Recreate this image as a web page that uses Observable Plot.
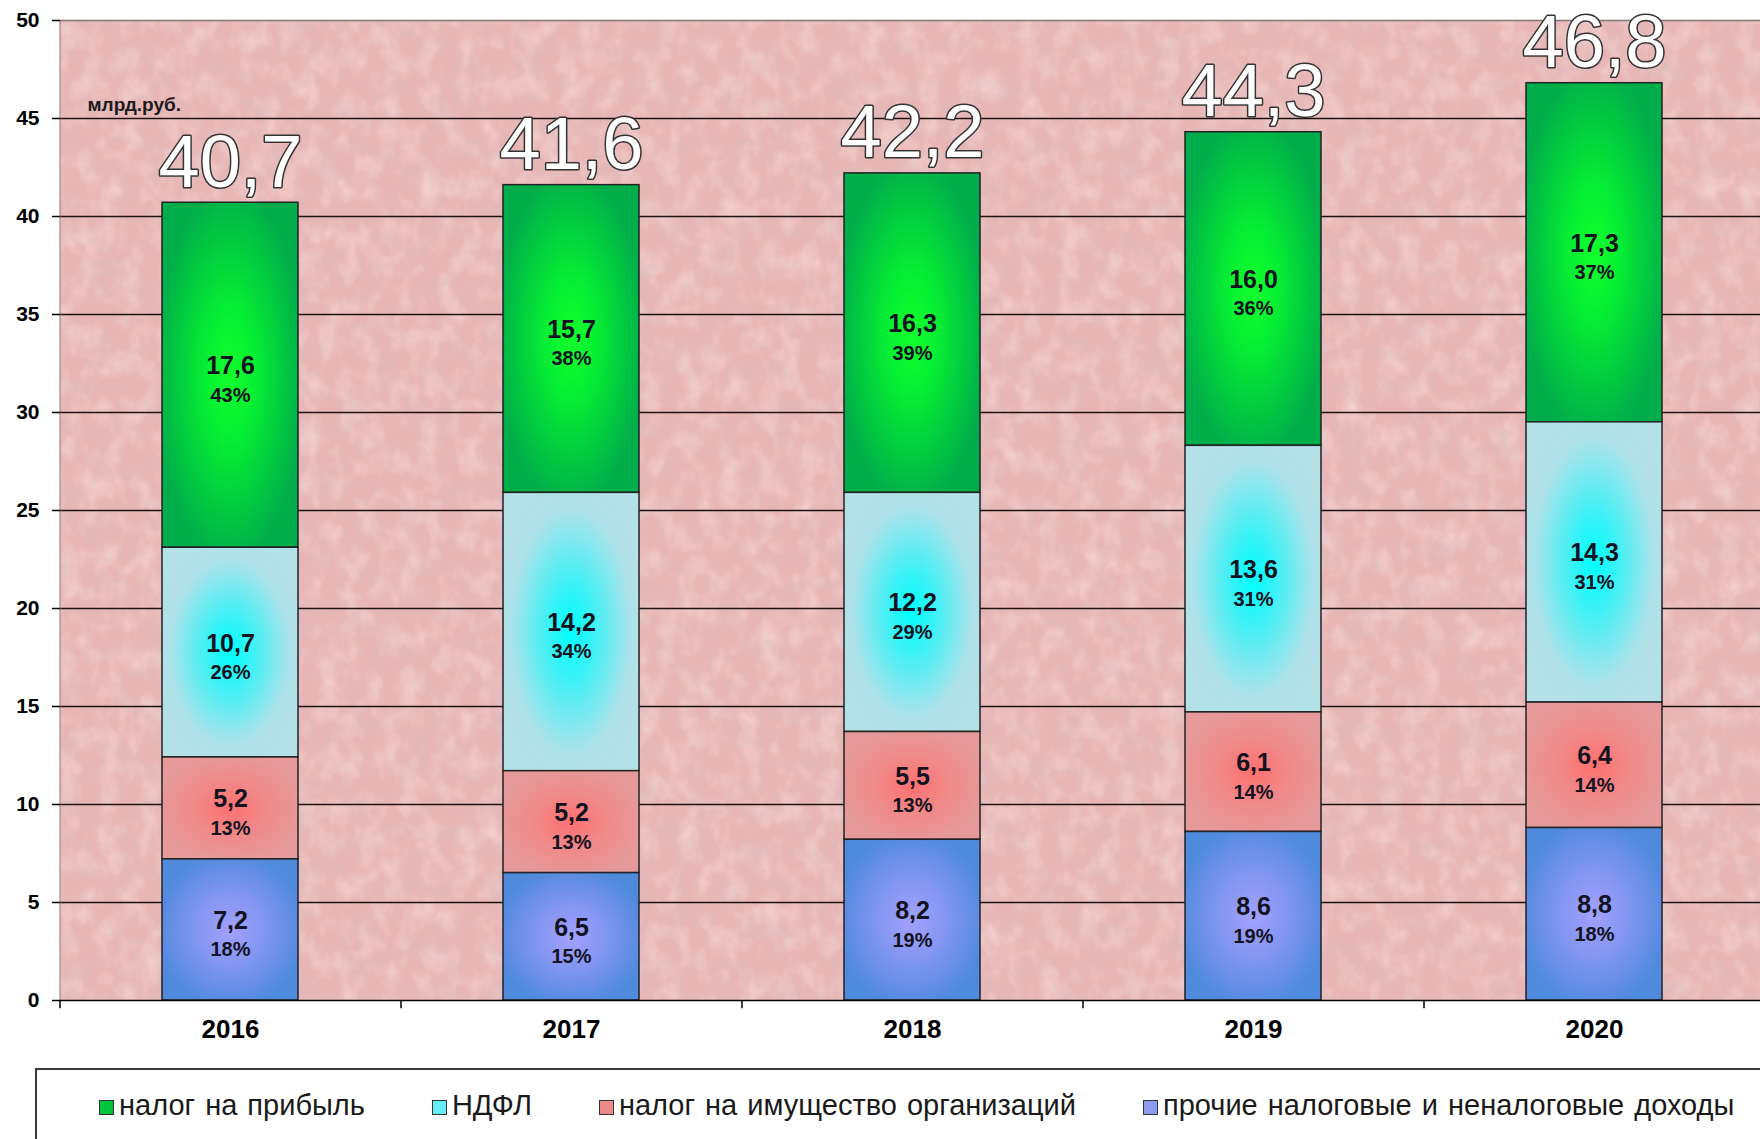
<!DOCTYPE html>
<html>
<head>
<meta charset="utf-8">
<script src="https://cdn.jsdelivr.net/npm/d3@7"></script>
<script src="https://cdn.jsdelivr.net/npm/@observablehq/plot@0.6"></script>
<style>
  html, body { margin: 0; padding: 0; background: #fff; }
  body { width: 1760px; height: 1139px; overflow: hidden; position: relative; font-family: "Liberation Sans", Arial, sans-serif; }
  #chart { position: absolute; left: 0; top: 0; }
  #legend { position: absolute; left: 35px; top: 1068px; width: 1800px; height: 120px; border: 2px solid #3a3a3a; box-sizing: border-box; background: #fff; }
  #legend .row { position: absolute; left: 62px; top: 20px; display: flex; gap: 67px; white-space: nowrap; }
  #legend .item { font-size: 29px; line-height: 30px; color: #1a1a1a; word-spacing: 2px; }
  #legend .sw { display: inline-block; width: 13px; height: 13px; border: 1.5px solid #333; margin-right: 5px; vertical-align: baseline; }
</style>
</head>
<body>
<div id="chart"></div>
<div id="legend"><div class="row"></div></div>
<script>
// ---- data ----
const years = ["2016", "2017", "2018", "2019", "2020"];
const seriesNames = ["налог на прибыль", "НДФЛ", "налог на имущество организаций", "прочие налоговые и неналоговые доходы"];
const profitTax   = [17.6, 15.7, 16.3, 16.0, 17.3];
const profitPct   = [43, 38, 39, 36, 37];
const ndfl        = [10.7, 14.2, 12.2, 13.6, 14.3];
const ndflPct     = [26, 34, 29, 31, 31];
const propertyTax = [5.2, 5.2, 5.5, 6.1, 6.4];
const propertyPct = [13, 13, 13, 14, 14];
const otherIncome = [7.2, 6.5, 8.2, 8.6, 8.8];
const otherPct    = [18, 15, 19, 19, 18];
const totals      = [40.7, 41.6, 42.2, 44.3, 46.8];
const yTicks      = [0, 5, 10, 15, 20, 25, 30, 35, 40, 45, 50];
const unitLabel   = "млрд.руб.";

// ---- tables built from arrays ----
const seriesValues = [profitTax, ndfl, propertyTax, otherIncome];
const seriesPcts = [profitPct, ndflPct, propertyPct, otherPct];
const rows = [];
seriesNames.forEach((s, si) => years.forEach((y, yi) => rows.push({series: s, year: y, value: seriesValues[si][yi], pct: seriesPcts[si][yi]})));
const totalRows = years.map((y, i) => ({year: y, total: totals[i]}));
const stackOrder = [seriesNames[3], seriesNames[2], seriesNames[1], seriesNames[0]];
const fmt = v => v.toFixed(1).replace(".", ",");

const fills = ["url(#gGreen)", "url(#gCyan)", "url(#gSalmon)", "url(#gBlue)"];
const legendColors = ["#00c43c", "#66eef6", "#ec8a8a", "#8c9af0"];

// background + defs rendered as a function mark
function background(index, scales, values, dims) {
  const g = d3.create("svg:g");
  const defs = g.append("defs");
  const grads = [
    ["gGreen", [[0, "#12ff2c"], [0.35, "#06ee34"], [1, "#00ad4a"]]],
    ["gCyan", [[0, "#00ffff"], [0.3, "#3af2f6"], [0.8, "#aee2ea"], [1, "#b4e0e8"]]],
    ["gSalmon", [[0, "#ff7070"], [0.5, "#f08a8a"], [1, "#e69a9a"]]],
    ["gBlue", [[0, "#a2a2ff"], [0.45, "#8496f0"], [1, "#508add"]]]
  ];
  for (const [id, stops] of grads) {
    const rg = defs.append("radialGradient").attr("id", id).attr("cx", "50%").attr("cy", "50%").attr("r", "55%");
    for (const [o, c] of stops) rg.append("stop").attr("offset", o).attr("stop-color", c);
  }
  const f = defs.append("filter").attr("id", "tex").attr("x", 0).attr("y", 0).attr("width", 1).attr("height", 1);
  f.append("feTurbulence").attr("type", "fractalNoise").attr("baseFrequency", "0.035 0.05").attr("numOctaves", 4).attr("seed", 7).attr("result", "n");
  f.append("feColorMatrix").attr("in", "n").attr("type", "matrix")
    .attr("values", "0 0 0 0 0.7  0 0 0 0 0.5  0 0 0 0 0.52  1.0 0 0 0 -0.42");
  const f2 = defs.append("filter").attr("id", "tex2").attr("x", 0).attr("y", 0).attr("width", 1).attr("height", 1);
  f2.append("feTurbulence").attr("type", "fractalNoise").attr("baseFrequency", "0.05 0.04").attr("numOctaves", 3).attr("seed", 3).attr("result", "n");
  f2.append("feColorMatrix").attr("in", "n").attr("type", "matrix")
    .attr("values", "0 0 0 0 1  0 0 0 0 0.88  0 0 0 0 0.88  0.9 0 0 0 -0.38");
  const x0 = dims.marginLeft, y0 = dims.marginTop;
  const w = dims.width - dims.marginLeft - dims.marginRight;
  const h = dims.height - dims.marginTop - dims.marginBottom;
  g.append("rect").attr("x", x0).attr("y", y0).attr("width", w).attr("height", h).attr("fill", "#e8b6b6");
  g.append("rect").attr("x", x0).attr("y", y0).attr("width", w).attr("height", h).attr("fill", "#fff").attr("filter", "url(#tex2)");
  g.append("rect").attr("x", x0).attr("y", y0).attr("width", w).attr("height", h).attr("fill", "#000").attr("filter", "url(#tex)");
  return g.node();
}

const chart = Plot.plot({
  width: 1760,
  height: 1060,
  marginTop: 20,
  marginBottom: 60,
  marginLeft: 60,
  marginRight: -5,
  style: {background: "transparent", fontFamily: "'Liberation Sans', Arial, sans-serif", overflow: "visible", color: "#000"},
  x: {domain: years, paddingInner: 0.6, paddingOuter: 0.3, axis: null},
  y: {domain: [0, 50], axis: null},
  color: {domain: seriesNames, range: fills},
  marks: [
    background,
    Plot.ruleY(yTicks.filter(t => t > 0 && t < 50), {stroke: "#1e1212", strokeWidth: 1.6}),
    Plot.ruleY([50], {stroke: "#857575", strokeWidth: 1.5}),
    Plot.ruleX([0], {x: () => years[0], dx: -170.5, y1: 0, y2: 50, stroke: "#8a7a7a", strokeWidth: 1}),
    Plot.barY(rows, Plot.stackY({x: "year", y: "value", z: "series", fill: "series", order: stackOrder, stroke: "#222", strokeWidth: 1.5})),
    Plot.ruleY([0], {stroke: "#000", strokeWidth: 1.5}),
    Plot.ruleX(years, {x: d => d, dx: -170.5, y1: 0, y2: -0.42, stroke: "#000", strokeWidth: 1.5}),
    Plot.axisY({ticks: yTicks, tickSize: 8, tickPadding: 13, fontSize: 21, fontWeight: "bold", stroke: "#000", strokeWidth: 1.5, tickFormat: d => String(d)}),
    Plot.axisX({tickSize: 0, tickPadding: 19, fontSize: 26, fontWeight: "bold", label: null}),
    Plot.text(rows, Plot.stackY({x: "year", y: "value", z: "series", order: stackOrder, text: d => fmt(d.value), fontSize: 25, fontWeight: "bold", fill: "#121220", lineAnchor: "middle", dy: -9})),
    Plot.text(rows, Plot.stackY({x: "year", y: "value", z: "series", order: stackOrder, text: d => d.pct + "%", fontSize: 20, fontWeight: "bold", fill: "#121220", lineAnchor: "middle", dy: 20})),
    Plot.text(totalRows, {x: "year", y: "total", text: d => fmt(d.total), fontSize: 74, fill: "#fff", stroke: "#333", strokeWidth: 3, paintOrder: "stroke", lineAnchor: "bottom", dy: -16}),
    Plot.text([unitLabel], {text: d => d, frameAnchor: "top-left", dx: 27, dy: 77, fontSize: 19, fontWeight: "bold", fill: "#1a1a1a"})
  ]
});
document.getElementById("chart").appendChild(chart);

// legend (HTML, below the SVG)
const row = document.querySelector("#legend .row");
seriesNames.forEach((s, i) => {
  const it = document.createElement("span");
  it.className = "item";
  const sw = document.createElement("span");
  sw.className = "sw";
  sw.style.background = legendColors[i];
  it.appendChild(sw);
  it.appendChild(document.createTextNode(s));
  row.appendChild(it);
});
</script>
</body>
</html>
